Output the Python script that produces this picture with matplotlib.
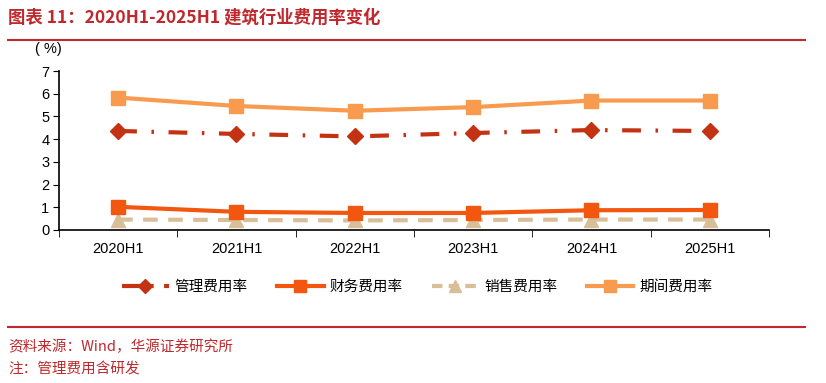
import matplotlib
matplotlib.use("Agg")

import matplotlib.pyplot as plt
from matplotlib.lines import Line2D

plt.rcParams["font.family"] = ["Noto Sans CJK SC", "DejaVu Sans"]

periods = ["2020H1", "2021H1", "2022H1", "2023H1", "2024H1", "2025H1"]
admin_rate = [4.36, 4.23, 4.12, 4.27, 4.40, 4.36]
finance_rate = [1.02, 0.80, 0.75, 0.75, 0.87, 0.88]
sales_rate = [0.46, 0.44, 0.42, 0.44, 0.46, 0.46]
period_rate = [5.83, 5.46, 5.25, 5.41, 5.70, 5.70]

series_names = ["管理费用率", "财务费用率", "销售费用率", "期间费用率"]

red = "#C0282D"
c_admin = "#C33213"
c_fin = "#F2560F"
c_sales = "#D8BF98"
c_period = "#F89B4F"
num_font = ["Liberation Sans", "DejaVu Sans"]

fig = plt.figure(figsize=(8.26, 3.83), dpi=100)
ax = fig.add_axes([0.0714, 0.3995, 0.8596, 0.4151])

x = list(range(len(periods)))

ax.plot(x, period_rate, color=c_period, lw=3, marker="s", ms=10, zorder=3)
ax.plot(x, admin_rate, color=c_admin, lw=3, marker="D", ms=8,
        dashes=(4.5, 3.5, 0.6, 3.5), zorder=3)
ax.plot(x, sales_rate, color=c_sales, lw=3, marker="^", ms=10,
        dashes=(3.5, 2.5), zorder=2)
ax.plot(x, finance_rate, color=c_fin, lw=3, marker="s", ms=10, zorder=3)

ax.set_xlim(-0.5, len(periods) - 0.5)
ax.set_ylim(0, 7)
ax.set_yticks(range(0, 8))
ax.set_xticks(x)
ax.set_xticklabels(periods)
ax.set_xticks([i - 0.5 for i in range(len(periods) + 1)], minor=True)
ax.tick_params(axis="x", which="major", length=0, pad=9, labelsize=10.5)
ax.tick_params(axis="x", which="minor", length=5, direction="out")
ax.tick_params(axis="y", length=4, direction="out", labelsize=10.5, pad=3)
for lab in ax.get_xticklabels() + ax.get_yticklabels():
    lab.set_family(num_font)
for s in ["top", "right"]:
    ax.spines[s].set_visible(False)
ax.spines["left"].set_linewidth(1.2)
ax.spines["bottom"].set_linewidth(1.2)

fig.text(0.042, 0.872, "( %)", fontsize=10.5, ha="left", va="center",
         family=num_font)

handles = [
    Line2D([], [], color=c_admin, lw=3, marker="D", ms=7, dashes=(4.5, 2.5, 0.6, 2.5)),
    Line2D([], [], color=c_fin, lw=3, marker="s", ms=8),
    Line2D([], [], color=c_sales, lw=3, marker="^", ms=8, dashes=(2.5, 1.5)),
    Line2D([], [], color=c_period, lw=3, marker="s", ms=8),
]
fig.legend(handles, series_names, loc="center", bbox_to_anchor=(0.505, 0.25),
           ncol=4, frameon=False, fontsize=10.5, handlelength=3.2,
           columnspacing=2.0, handletextpad=0.4)

fig.text(0.01, 0.955, "图表 11：2020H1-2025H1 建筑行业费用率变化", color=red,
         fontsize=12.5, fontweight="bold", ha="left", va="center")
fig.add_artist(Line2D([0.01, 0.975], [0.896, 0.896], color=red, lw=1.5,
                      transform=fig.transFigure))
fig.add_artist(Line2D([0.01, 0.975], [0.145, 0.145], color=red, lw=1.5,
                      transform=fig.transFigure))
fig.text(0.01, 0.095, "资料来源：Wind，华源证券研究所", color=red,
         fontsize=10.5, ha="left", va="center")
fig.text(0.01, 0.035, "注：管理费用含研发", color=red,
         fontsize=10.5, ha="left", va="center")

fig.savefig("out.png", dpi=100)
plt.close(fig)
